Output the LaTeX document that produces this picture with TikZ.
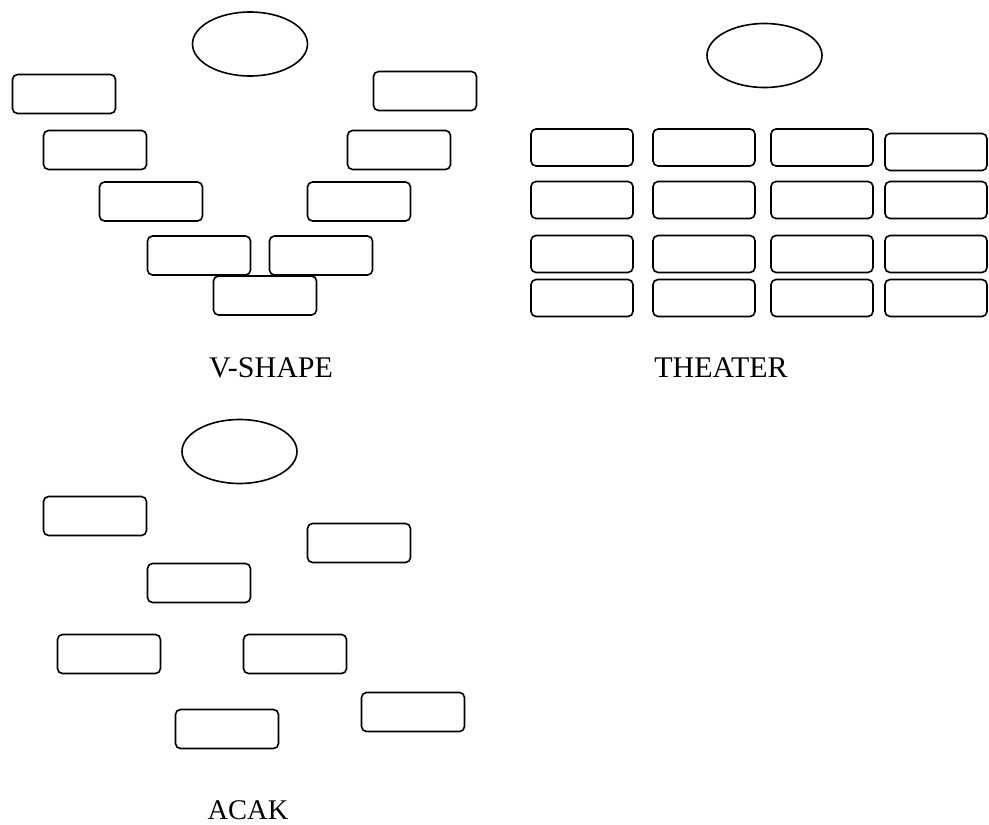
\documentclass[tikz,border=0pt]{standalone}
\usepackage{fontspec}
\setmainfont{Liberation Serif}
\usetikzlibrary{shapes.geometric}
\begin{document}
\begin{tikzpicture}[x=1pt,y=-1pt,
  seat/.style={draw, line width=1.6pt, rounded corners=5pt, inner sep=0pt,
    minimum width=103pt, minimum height=39pt},
  tseat/.style={seat, minimum width=102pt, minimum height=37pt},
  podium/.style={draw, line width=1.6pt, ellipse, inner sep=0pt,
    minimum width=115pt, minimum height=64pt},
  caption/.style={anchor=base, inner sep=0pt, font=\fontsize{30}{34}\selectfont}]
\useasboundingbox (0,0) rectangle (989,825);
% V-SHAPE
\node[podium] (ve) at (250,44) {};
\node[seat] (vl1) at (64,94) {};
\node[seat] (vr1) at (425,91) {};
\node[seat] (vl2) at (95,150) {};
\node[seat] (vr2) at (399,150) {};
\node[seat] (vl3) at (151,201.5) {};
\node[seat] (vr3) at (359,201.5) {};
\node[seat] (vl4) at (199,255.5) {};
\node[seat] (vr4) at (321,255.5) {};
\node[seat] (vb) at (265,295.5) {};
\node[caption] (vcap) at (271,377) {V-SHAPE};
% THEATER
\node[podium] (te) at (764.5,55.5) {};
\foreach \c/\x in {1/582,2/704,3/822}{
  \foreach \r/\y in {1/147.5,2/200,3/254,4/298}{
    \node[tseat] (t\c\r) at (\x,\y) {};
  }
}
\node[tseat] (t41) at (936,152) {};
\node[tseat] (t42) at (936,200) {};
\node[tseat] (t43) at (936,254) {};
\node[tseat] (t44) at (936,298) {};
\node[caption] (tcap) at (721,377) {THEATER};
% ACAK
\node[podium] (ae) at (239.5,451.5) {};
\node[seat] (a1) at (95,516) {};
\node[seat] (a2) at (359,543) {};
\node[seat] (a3) at (199,583) {};
\node[seat] (a4) at (109,654) {};
\node[seat] (a5) at (295,654) {};
\node[seat] (a6) at (413,712) {};
\node[seat] (a7) at (227,729) {};
\node[caption, font=\fontsize{28.5}{32}\selectfont] (acap) at (248,819) {ACAK};
\end{tikzpicture}
\end{document}
